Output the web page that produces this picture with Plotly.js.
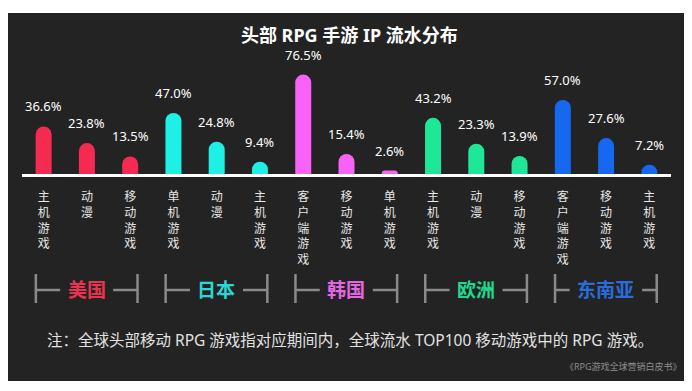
<!DOCTYPE html>
<html>
<head>
<meta charset="utf-8">
<script src="https://cdn.plot.ly/plotly-3.0.1.min.js"></script>
<style>
  html, body { margin: 0; padding: 0; background: #ffffff; width: 692px; height: 391px; overflow: hidden; }
  #panel { position: absolute; left: 8px; top: 13px; width: 676px; height: 368px; background: #232323; }
  #chart { position: absolute; left: 0; top: 0; width: 676px; height: 368px; }
</style>
</head>
<body>
<div id="panel"><div id="chart"></div></div>
<script>
// ---- data ----
const regions = ['美国', '日本', '韩国', '欧洲', '东南亚'];
const categories = ['主机游戏', '动漫', '移动游戏',
                    '单机游戏', '动漫', '主机游戏',
                    '客户端游戏', '移动游戏', '单机游戏',
                    '主机游戏', '动漫', '移动游戏',
                    '客户端游戏', '移动游戏', '主机游戏'];
const values = [36.6, 23.8, 13.5,
                47.0, 24.8, 9.4,
                76.5, 15.4, 2.6,
                43.2, 23.3, 13.9,
                57.0, 27.6, 7.2];
const regionOfBar = [0,0,0, 1,1,1, 2,2,2, 3,3,3, 4,4,4];
const barColors = ['#f52a51', '#1ef0e6', '#f862f6', '#1ee898', '#1668f0'];
const labelColors = ['#e8344f', '#2ad9d6', '#e466e2', '#22d890', '#2a6cdc'];
const title = '头部 RPG 手游 IP 流水分布';
const note = '注：全球头部移动 RPG 游戏指对应期间内，全球流水 TOP100 移动游戏中的 RPG 游戏。';
const source = '《RPG游戏全球营销白皮书》';

// ---- layout helpers ----
const W = 676, H = 368;
const mL = 14, mR = 13, mT = 44, mB = 207;
const plotW = W - mL - mR, plotH = H - mT - mB;
const plotBottom = H - mB;
const unitPx = plotW / 15;
const px2x = px => (px - mL) / plotW;
const py2y = py => (plotBottom - py) / plotH;

const FONT = '"Noto Sans", "Noto Sans CJK SC", sans-serif';
const idx = values.map((_, i) => i);

const trace = {
  type: 'bar',
  x: idx,
  y: values,
  width: 0.37,
  marker: { color: regionOfBar.map(r => barColors[r]), cornerradius: 8, line: { width: 0 } },
  hoverinfo: 'skip'
};

const annotations = values.map((v, i) => ({
  x: i, y: v, xref: 'x', yref: 'y',
  text: v.toFixed(1) + '%',
  showarrow: false, yanchor: 'bottom', yshift: 9,
  font: { family: FONT, size: 13, color: '#ffffff' }
}));

const shapes = [];
const brY0 = py2y(261), brY1 = py2y(290), brMid = py2y(277);
const lineStyle = { color: '#8a8a8a', width: 2.5 };
regions.forEach((name, g) => {
  const x0 = g * 3 - 0.18, x1 = g * 3 + 2.17, c = (x0 + x1) / 2;
  const tw = name.length * 19.5;
  const half = (tw / 2 + 7) / unitPx;
  shapes.push({ type: 'line', xref: 'x', yref: 'paper', x0: x0, x1: x0, y0: brY0, y1: brY1, line: lineStyle });
  shapes.push({ type: 'line', xref: 'x', yref: 'paper', x0: x1, x1: x1, y0: brY0, y1: brY1, line: lineStyle });
  shapes.push({ type: 'line', xref: 'x', yref: 'paper', x0: x0, x1: c - half, y0: brMid, y1: brMid, line: lineStyle });
  shapes.push({ type: 'line', xref: 'x', yref: 'paper', x0: c + half, x1: x1, y0: brMid, y1: brMid, line: lineStyle });
  annotations.push({
    x: c, y: brMid, xref: 'x', yref: 'paper', text: '<b>' + name + '</b>',
    showarrow: false, xanchor: 'center', yanchor: 'middle',
    font: { family: FONT, size: 19, color: labelColors[g] }
  });
});

annotations.push({
  x: px2x(342), y: py2y(327), xref: 'paper', yref: 'paper', text: note,
  showarrow: false, xanchor: 'center', yanchor: 'middle',
  font: { family: FONT, size: 15.5, color: '#e2e2e2' }
});
annotations.push({
  x: px2x(676), y: py2y(353), xref: 'paper', yref: 'paper', text: source,
  showarrow: false, xanchor: 'right', yanchor: 'middle',
  font: { family: FONT, size: 9, color: '#8c8c8c' }
});

const layout = {
  width: W, height: H,
  margin: { l: mL, r: mR, t: mT, b: mB, pad: 0 },
  paper_bgcolor: 'rgba(0,0,0,0)',
  plot_bgcolor: 'rgba(0,0,0,0)',
  showlegend: false,
  title: {
    text: '<b>' + title + '</b>',
    font: { family: FONT, size: 18, color: '#ffffff' },
    x: 0.505, xref: 'container', xanchor: 'center',
    y: 1 - 23 / H, yref: 'container', yanchor: 'middle'
  },
  xaxis: {
    range: [-0.5, 14.5],
    tickmode: 'array',
    tickvals: idx,
    ticktext: categories.map(c => c.split('').join('<br>')),
    ticks: '',
    ticklabelstandoff: 10,
    showline: true, linecolor: '#ffffff', linewidth: 3,
    showgrid: false, zeroline: false,
    tickfont: { family: FONT, size: 12, color: '#e6e6e6' },
    fixedrange: true
  },
  yaxis: {
    range: [0, 90], visible: false, showgrid: false, zeroline: false, fixedrange: true
  },
  shapes: shapes,
  annotations: annotations
};

Plotly.newPlot('chart', [trace], layout, { displayModeBar: false, staticPlot: true });
</script>
</body>
</html>
